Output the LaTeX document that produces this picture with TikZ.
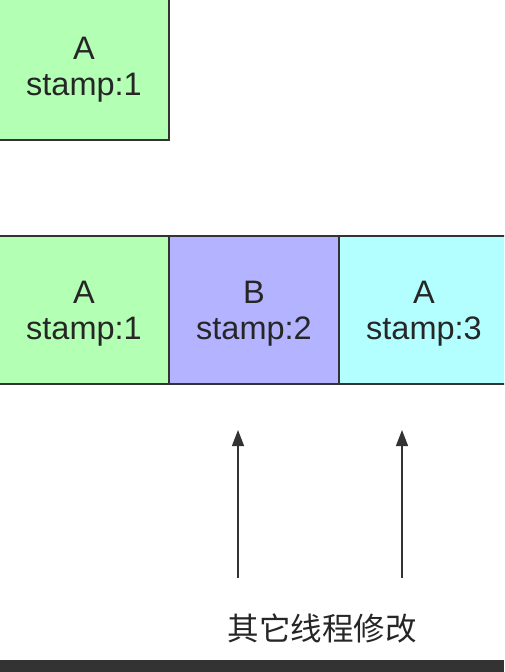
\documentclass[tikz,border=0pt]{standalone}
\usepackage{fontspec}
\setmainfont{Liberation Sans}
\newfontfamily\cjk{Noto Sans CJK SC}
\usetikzlibrary{arrows.meta}

\definecolor{stampgreen}{HTML}{B3FFB3}
\definecolor{stampblue}{HTML}{B3B3FF}
\definecolor{stampcyan}{HTML}{B3FFFF}
\definecolor{edgegray}{HTML}{333333}

\tikzset{
	slot/.style={draw=edgegray, line width=1.5pt, minimum width=170pt, minimum height=148pt,
		inner sep=0pt, align=center, text depth=0pt, text=black!85, font=\fontsize{32.5}{36}\selectfont},
	push/.style={draw=edgegray, line width=1.3pt, -{Triangle[length=16pt,width=12pt]}}
}

\begin{document}
\begin{tikzpicture}[x=1pt,y=-1pt]
	\useasboundingbox (0,0) rectangle (504,672);
	\clip (0,0) rectangle (504,672);
	% value read first
	\node[slot, fill=stampgreen] (old) at (84,66) {A\\stamp:1};
	% after the change
	\node[slot, fill=stampgreen] (first) at (84,310) {A\\stamp:1};
	\node[slot, fill=stampblue] (second) at (254,310) {B\\stamp:2};
	\node[slot, fill=stampcyan] (third) at (424,310) {A\\stamp:3};
	\coordinate (footb) at (238,578);
	\coordinate (headb) at (238,430);
	\coordinate (footc) at (402,578);
	\coordinate (headc) at (402,430);
	\draw[push] (footb) -- (headb);
	\draw[push] (footc) -- (headc);
	\node[text=black!85, font=\cjk\fontsize{31.5}{36}\selectfont] (others) at (322,628) {其它线程修改};
	\fill[edgegray] (0,660) rectangle (504,672);
\end{tikzpicture}
\end{document}
